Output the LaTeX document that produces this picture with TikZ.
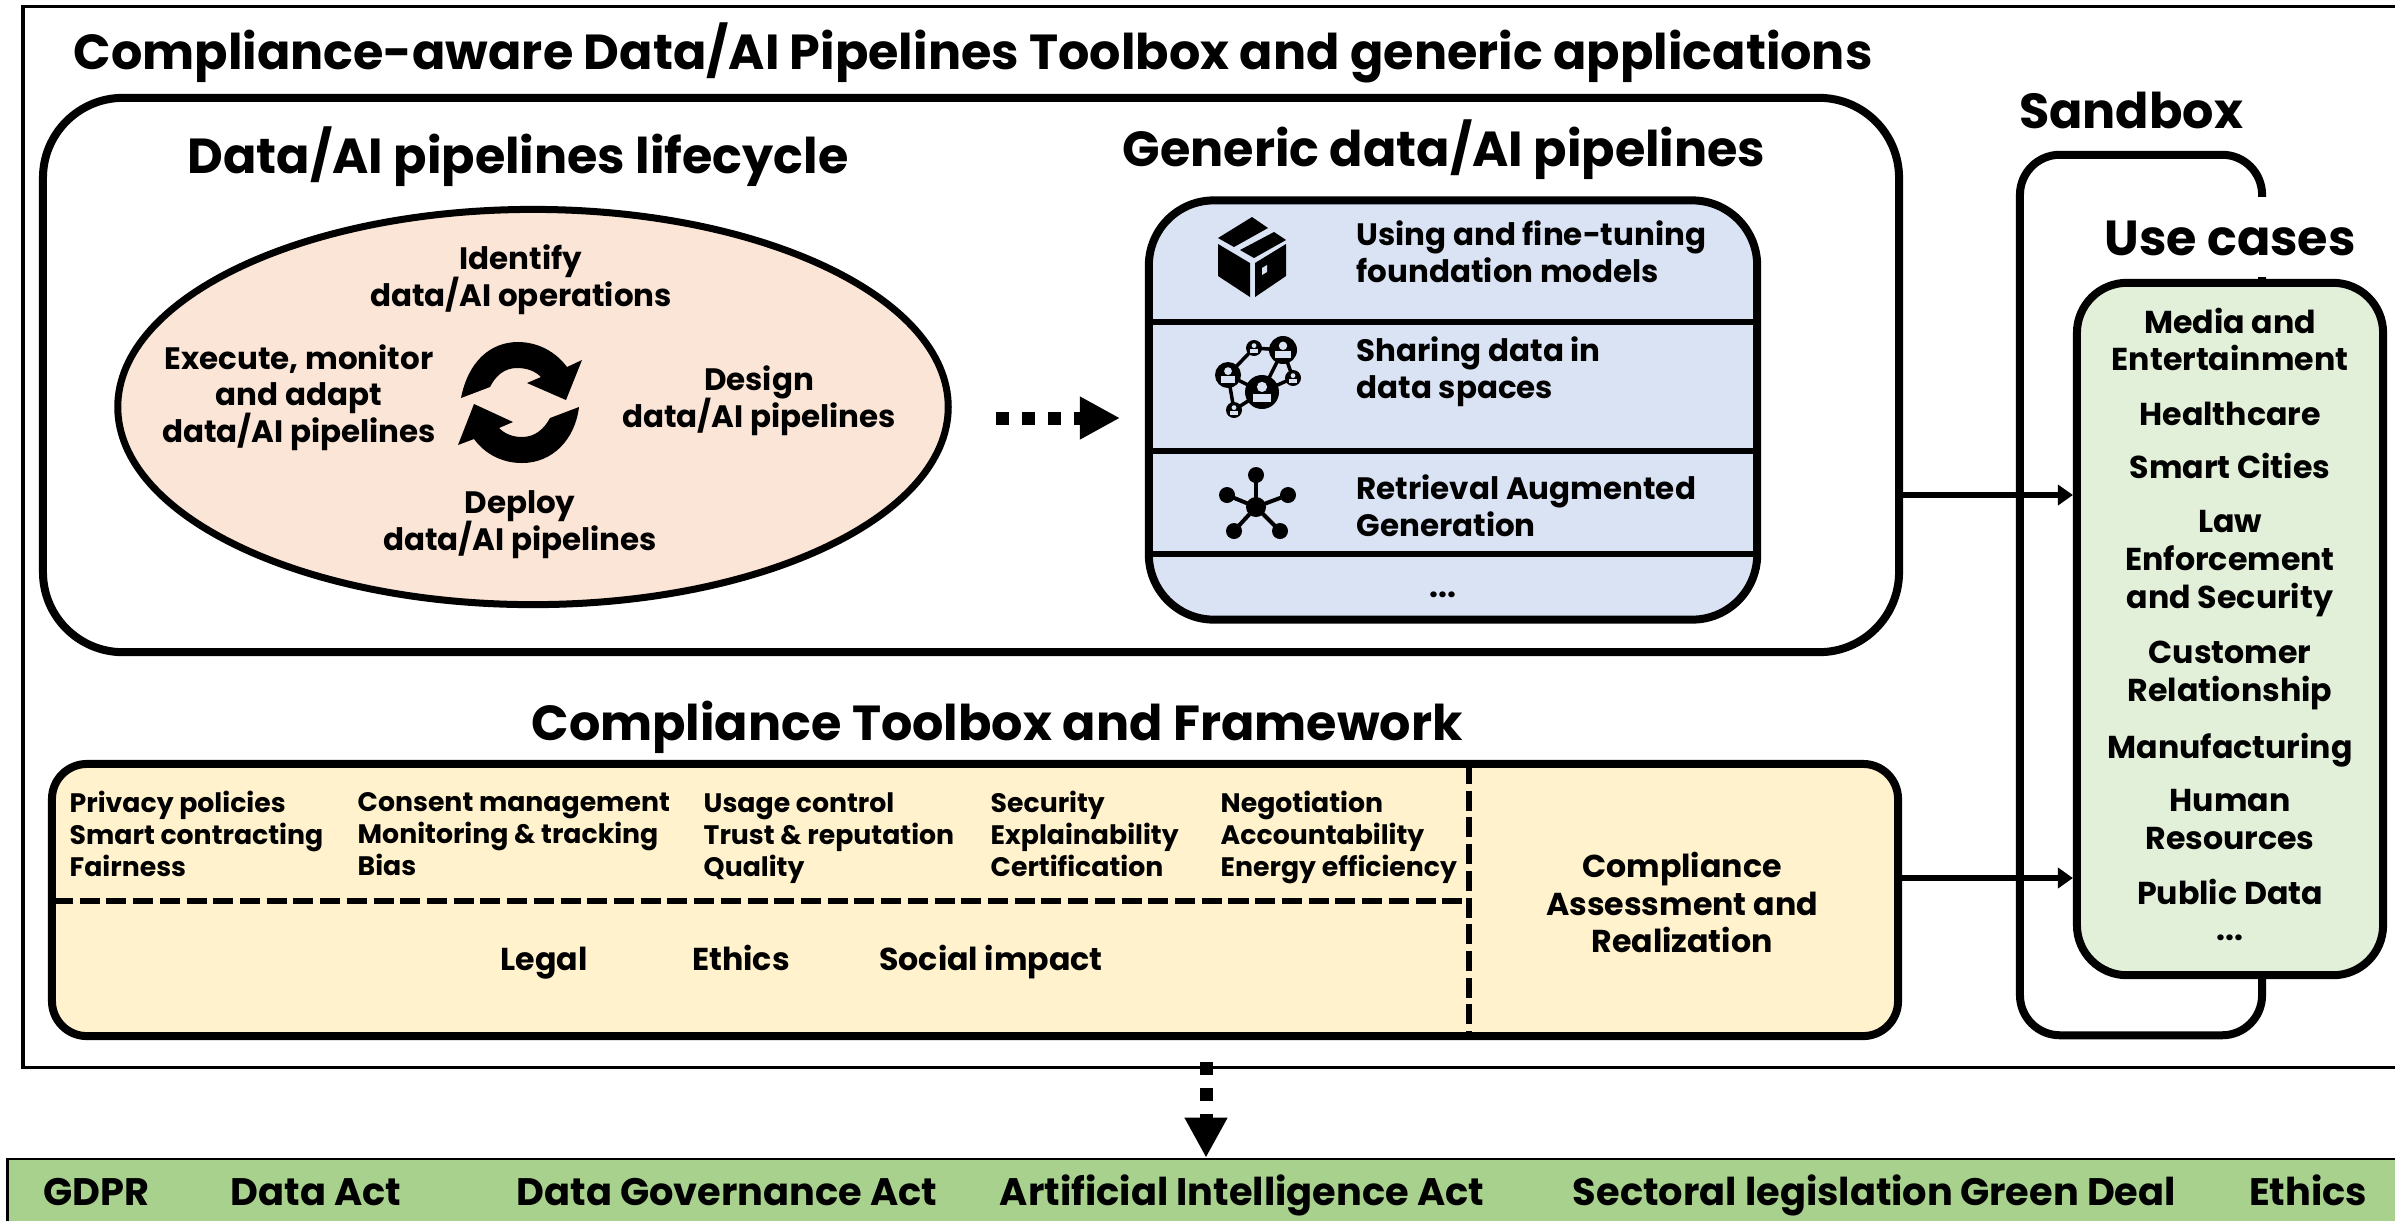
\documentclass[tikz,border=0pt]{standalone}
\usepackage{fontspec}
\setmainfont{Poppins}
\usetikzlibrary{arrows.meta,shapes.geometric,calc}
\definecolor{peach}{HTML}{FBE5D6}
\definecolor{paleblue}{HTML}{DAE3F3}
\definecolor{palegreen}{HTML}{E2F0D9}
\definecolor{paleyellow}{HTML}{FFF2CC}
\definecolor{lawgreen}{HTML}{A9D18E}
\normallineskiplimit=-10pt
\lineskiplimit=-10pt
\tikzset{
  panel/.style={draw,line width=0.8mm,rounded corners=#1,inner sep=0pt},
  strutted/.style={inner sep=0pt,execute at begin node=\strut,execute at end node=\strut},
  headtext/.style={strutted,font=\fontsize{14}{17}\selectfont\bfseries},
  bodytext/.style={strutted,align=center,font=\fontsize{9}{10.8}\selectfont\bfseries},
  lifetext/.style={strutted,align=center,font=\fontsize{8.8}{10.4}\selectfont\bfseries},
  generictext/.style={strutted,align=left,anchor=west,font=\fontsize{8.8}{10.4}\selectfont\bfseries},
  smalltext/.style={strutted,align=left,anchor=west,font=\fontsize{7.6}{9.1}\selectfont\bfseries},
  lawtext/.style={strutted,font=\fontsize{10.9}{13}\selectfont\bfseries},
  flow/.style={line width=0.65mm,-{Triangle[width=2mm,length=1.5mm]}},
  dotflow/.style={line width=1.3mm,dash pattern=on 1.3mm off 1.3mm,-{Triangle[width=4mm,length=4mm]}},
  divider/.style={line width=0.65mm},
  dashdivider/.style={line width=0.65mm,dash pattern=on 2mm off 0.67mm}
}
\begin{document}
\begin{tikzpicture}[x=0.01cm,y=-0.01cm]
  \useasboundingbox (0,0) rectangle (2395,1220);
  \draw[line width=0.3mm] (2395,6) -- (23,6) -- (23,1067) -- (2395,1067); % outer frame
  \node[headtext,anchor=west] (maintitle) at (73,55) {Compliance-aware Data/AI Pipelines Toolbox and generic applications};

  % lifecycle part
  \node[panel=0.8cm,minimum width=18.55cm,minimum height=5.54cm] (lifecycle) at (971,375) {};
  \node[headtext] (lifetitle) at (518,159) {Data/AI pipelines lifecycle};
  \node[headtext] (generictitle) at (1444,152) {Generic data/AI pipelines};
  \node[draw,line width=0.7mm,fill=peach,ellipse,minimum width=8.3cm,minimum height=3.95cm,inner sep=0pt] (loop) at (533,407) {};
  \node[lifetext] (identify) at (521,281) {Identify\\data/AI operations};
  \node[lifetext] (execute) at (299,399) {Execute, monitor\\and adapt\\data/AI pipelines};
  \node[lifetext] (design) at (759,402) {Design\\data/AI pipelines};
  \node[lifetext] (deploy) at (520,526) {Deploy\\data/AI pipelines};
  \fill (461,398) .. controls (468,362) and (490,342) .. (518,342) .. controls (538,342) and (556,352) .. (567,367) -- (582,360) -- (566,400) -- (527,383) -- (541,377) .. controls (535,371) and (527,368) .. (517,368) .. controls (505,368) and (496,375) .. (490,387) -- cycle; % upper arrow
  \fill (579,407) .. controls (575,440) and (552,463) .. (522,463) .. controls (502,463) and (485,454) .. (474,439) -- (458,445) -- (474,404) -- (513,422) -- (499,428) .. controls (505,434) and (513,437) .. (522,437) .. controls (535,437) and (544,429) .. (550,418) -- cycle; % lower arrow

  % generic pipelines
  \node[panel=0.65cm,fill=paleblue,minimum width=6.08cm,minimum height=4.19cm] (generic) at (1453,410) {};
  \foreach \y in {322,451,554}
    \draw[divider] (1149,\y) -- (1757,\y);
  \node[generictext] (usingtext) at (1356,257) {Using and fine-tuning\\foundation models};
  \node[generictext] (sharingtext) at (1356,373) {Sharing data in\\data spaces};
  \node[generictext] (ragtext) at (1356,511) {Retrieval Augmented\\Generation};
  \node[bodytext] (moretext) at (1443,590) {...};
  \fill (1252,217) -- (1268,228) -- (1234,247) -- (1218,238) -- cycle; % package icon
  \fill (1274,232) -- (1286,240) -- (1254,258) -- (1240,250) -- cycle;
  \fill (1218,244) -- (1250,263) -- (1250,297) -- (1218,276) -- cycle;
  \fill (1286,244) -- (1255,263) -- (1255,297) -- (1286,276) -- cycle;
  \fill[paleblue] (1262,268) -- (1267,265) -- (1267,272) -- (1262,275) -- cycle;
  \coordinate (p1) at (1254,348);
  \coordinate (p2) at (1283,350);
  \coordinate (p3) at (1228,375);
  \coordinate (p4) at (1262,392);
  \coordinate (p5) at (1293,378);
  \coordinate (p6) at (1234,410);
  \foreach \a/\b in {p1/p2,p1/p3,p2/p4,p2/p5,p5/p4,p3/p4,p3/p6,p6/p4}
    \draw[line width=0.35mm] (\a) -- (\b);
  \foreach \a/\r in {p1/8,p2/14,p3/13,p4/17,p5/8,p6/8}{ % people icon
    \fill (\a) circle ({\r*0.01cm});
    \fill[paleblue] ($(\a)+(0,-0.3*\r)$) circle ({0.3*\r*0.01cm});
    \fill[paleblue] ($(\a)+(-0.55*\r,0.6*\r)$) rectangle ($(\a)+(0.55*\r,0.1*\r)$);
  }
  \coordinate (hub) at (1256,507);
  \foreach \x/\y in {1256/475,1227/495,1288/495,1234/531,1280/531}{ % star icon
    \draw[line width=0.4mm] (hub) -- (\x,\y);
    \fill (\x,\y) circle (0.08cm);
  }
  \fill (hub) circle (0.1cm);
  \draw[dotflow] (996,418) -- (1120,418);

  % compliance part
  \node[headtext] (comptitle) at (997,729) {Compliance Toolbox and Framework};
  \node[panel=0.35cm,fill=paleyellow,minimum width=18.45cm,minimum height=2.72cm] (compliance) at (975,900) {};
  \draw[dashdivider] (53,901) -- (1469,901);
  \draw[dashdivider] (1469,764) -- (1469,1036);
  \node[smalltext] (privacy) at (69,839) {Privacy policies\\Smart contracting\\Fairness};
  \node[smalltext] (consent) at (357,839) {Consent management\\Monitoring \& tracking\\Bias};
  \node[smalltext] (usage) at (703,839) {Usage control\\Trust \& reputation\\Quality};
  \node[smalltext] (security) at (990,839) {Security\\Explainability\\Certification};
  \node[smalltext] (negotiation) at (1220,839) {Negotiation\\Accountability\\Energy efficiency};
  \node[bodytext] (legal) at (544,963) {Legal};
  \node[bodytext] (ethics) at (741,963) {Ethics};
  \node[bodytext] (social) at (991,963) {Social impact};
  \node[bodytext] (assess) at (1682,908) {Compliance\\Assessment and\\Realization};

  % sandbox and use cases
  \node[panel=0.4cm,minimum width=2.42cm,minimum height=8.8cm] (sandbox) at (2141,595) {};
  \node[headtext] (sandboxtitle) at (2131,117) {Sandbox};
  \node[fill=white,minimum width=3.3cm,minimum height=0.79cm,inner sep=0pt] (usecover) at (2230,237) {};
  \node[headtext] (usetitle) at (2230,244) {Use cases};
  \node[panel=0.5cm,fill=palegreen,minimum width=3.06cm,minimum height=6.92cm] (usecases) at (2230,629) {};
  \node[bodytext] (media) at (2230,345) {Media and\\Entertainment};
  \node[bodytext] (health) at (2230,418) {Healthcare};
  \node[bodytext] (cities) at (2230,471) {Smart Cities};
  \node[bodytext] (law) at (2230,565) {Law\\Enforcement\\and Security};
  \node[bodytext] (customer) at (2230,677) {Customer\\Relationship};
  \node[bodytext] (manufact) at (2230,751) {Manufacturing};
  \node[bodytext] (human) at (2230,825) {Human\\Resources};
  \node[bodytext] (publicdata) at (2230,897) {Public Data};
  \node[bodytext] (usemore) at (2230,933) {...};
  \coordinate (upper) at (0,495);
  \coordinate (lower) at (0,878);
  \draw[flow] (lifecycle.east |- upper) -- (usecases.west |- upper);
  \draw[flow] (compliance.east |- lower) -- (usecases.west |- lower);

  % legislation band
  \node[draw,line width=0.25mm,fill=lawgreen,minimum width=23.97cm,minimum height=0.66cm,inner sep=0pt] (band) at (1206.5,1192) {};
  \node[lawtext] (gdpr) at (96,1196) {GDPR};
  \node[lawtext] (dataact) at (316,1196) {Data Act};
  \node[lawtext] (govact) at (727,1196) {Data Governance Act};
  \node[lawtext] (aiact) at (1242,1196) {Artificial Intelligence Act};
  \node[lawtext] (sectoral) at (1763,1196) {Sectoral legislation};
  \node[lawtext] (green) at (2068,1196) {Green Deal};
  \node[lawtext] (bandethics) at (2308,1196) {Ethics};
  \coordinate (dropstart) at (1206,1062);
  \draw[dotflow] (dropstart) -- (dropstart |- band.north);
\end{tikzpicture}
\end{document}
